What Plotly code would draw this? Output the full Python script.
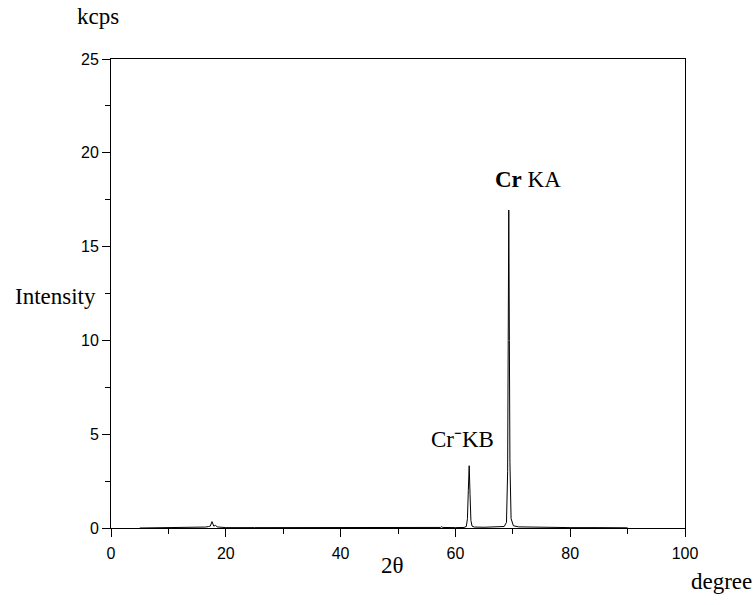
import plotly.graph_objects as go

# 2-theta (degree) and intensity (kcps)
two_theta = [5.0, 8.0, 10.0, 12.0, 14.0, 15.5, 16.0, 16.5, 17.0, 17.3, 17.6, 17.9,
             18.2, 18.5, 18.8, 19.2, 20.0, 25.0, 30.0, 35.0, 40.0, 45.0, 50.0, 55.0,
             57.4, 57.6, 57.8, 60.0, 61.5, 61.9, 62.1, 62.25, 62.4, 62.55, 62.7, 62.9,
             63.3, 65.0, 67.5, 68.5, 68.9, 69.1, 69.2, 69.3, 69.4, 69.5, 69.7, 70.1,
             71.0, 75.0, 80.0, 85.0, 90.0]
intensity = [0.0, 0.01, 0.02, 0.02, 0.03, 0.04, 0.07, 0.05, 0.08, 0.10, 0.34, 0.10,
             0.14, 0.06, 0.05, 0.03, 0.02, 0.02, 0.02, 0.02, 0.01, 0.01, 0.01, 0.02,
             0.03, 0.07, 0.03, 0.02, 0.03, 0.08, 0.5, 2.0, 3.32, 1.8, 0.4, 0.1,
             0.05, 0.04, 0.05, 0.08, 0.3, 3.0, 10.0, 16.95, 10.0, 3.5, 0.5, 0.12,
             0.06, 0.03, 0.02, 0.02, 0.01]

x_ticks = [0, 20, 40, 60, 80, 100]
y_ticks = [0, 5, 10, 15, 20, 25]

peak_labels = ["Cr⁻KB", "<b>Cr</b> KA"]

L, R, T, B = 111, 70, 59, 77
W, H = 755, 605
pw, ph = W - L - R, H - T - B

def px(x):
    return (x - L) / pw

def py(y):
    return (H - B - y) / ph

fig = go.Figure()
fig.add_trace(go.Scatter(x=two_theta, y=intensity, mode="lines",
                         line=dict(color="black", width=1), showlegend=False,
                         hoverinfo="skip"))

serif = dict(family="Liberation Serif, Times New Roman, serif", size=23, color="black")

annotations = [
    dict(text="kcps", x=px(98), y=py(17)),
    dict(text="Intensity", x=px(55), y=py(296)),
    dict(text="2θ", x=px(392), y=py(565)),
    dict(text="degree", x=px(721), y=py(581)),
    dict(text=peak_labels[0], x=px(462), y=py(440)),
    dict(text=peak_labels[1], x=px(528), y=py(180)),
]
for a in annotations:
    a.update(xref="paper", yref="paper", showarrow=False, xanchor="center",
             yanchor="middle", font=serif)

fig.update_layout(
    width=W, height=H,
    margin=dict(l=L, r=R, t=T, b=B, pad=0),
    paper_bgcolor="white", plot_bgcolor="white",
    annotations=annotations,
    font=dict(family="Liberation Sans, Arial, sans-serif", size=16, color="black"),
)
fig.update_xaxes(range=[0, 100], tickvals=x_ticks, ticks="outside", ticklen=8,
                 tickwidth=1, tickcolor="black", showgrid=False, zeroline=False,
                 showline=True, linecolor="black", linewidth=1, mirror=True,
                 minor=dict(dtick=10, ticks="outside", ticklen=5, tickcolor="black",
                            showgrid=False),
                 ticklabelstandoff=3,
                 tickfont=dict(size=16))
fig.update_yaxes(range=[0, 25], tickvals=y_ticks, ticks="outside", ticklen=8,
                 tickwidth=1, tickcolor="black", showgrid=False, zeroline=False,
                 showline=True, linecolor="black", linewidth=1, mirror=True,
                 minor=dict(dtick=2.5, ticks="outside", ticklen=5, tickcolor="black",
                            showgrid=False),
                 tickfont=dict(size=16))

fig.write_html("out.html")
